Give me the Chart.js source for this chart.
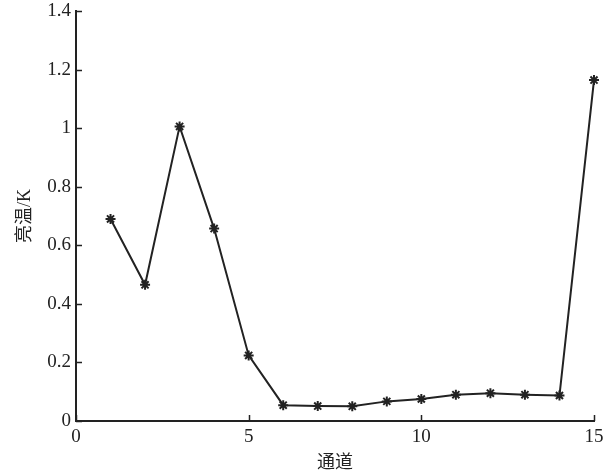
<!DOCTYPE html>
<html>
<head>
<meta charset="utf-8">
<script src="https://cdn.jsdelivr.net/npm/chart.js@4"></script>
<style>
  html, body { margin: 0; padding: 0; background: #fff; }
  #wrap { width: 613px; height: 474px; }
</style>
</head>
<body>
<div id="wrap"><canvas id="tbChart"></canvas></div>
<script>
// channel number vs brightness temperature (K)
const channels = [1, 2, 3, 4, 5, 6, 7, 8, 9, 10, 11, 12, 13, 14, 15];
const brightTemp = [0.69, 0.465, 1.006, 0.657, 0.224, 0.054, 0.051, 0.05, 0.067, 0.075, 0.09, 0.095, 0.09, 0.087, 1.164];
const xTicks = [0, 5, 10, 15];
const yTicks = [0, 0.2, 0.4, 0.6, 0.8, 1, 1.2, 1.4];

const serif = "'Liberation Serif', 'Times New Roman', 'Noto Sans CJK SC', serif";
const ink = '#222';

// short tick marks pointing into the plot area
const innerTicks = {
    id: 'innerTicks',
    afterDraw(chart) {
        const ctx = chart.ctx;
        const area = chart.chartArea;
        const xs = chart.scales.x, ys = chart.scales.y;
        ctx.save();
        ctx.strokeStyle = ink;
        ctx.lineWidth = 1.5;
        ctx.beginPath();
        yTicks.forEach(v => {
            const py = Math.round(ys.getPixelForValue(v)) + 0.5;
            ctx.moveTo(area.left, py);
            ctx.lineTo(area.left + 6, py);
        });
        xTicks.forEach(v => {
            const px = Math.round(xs.getPixelForValue(v)) + 0.5;
            ctx.moveTo(px, area.bottom);
            ctx.lineTo(px, area.bottom - 6);
        });
        ctx.stroke();
        ctx.restore();
    }
};

new Chart(document.getElementById('tbChart').getContext('2d'), {
    type: 'line',
    data: {
        datasets: [{
            data: channels.map((c, i) => ({ x: c, y: brightTemp[i] })),
            borderColor: ink,
            borderWidth: 2,
            pointStyle: 'star',
            pointRadius: 5,
            pointBorderWidth: 2,
            pointBorderColor: ink,
            pointBackgroundColor: ink,
            tension: 0,
            fill: false,
            clip: false
        }]
    },
    options: {
        responsive: true,
        maintainAspectRatio: false,
        animation: false,
        layout: { padding: { left: 4, top: 11, right: 19, bottom: 0 } },
        plugins: { legend: { display: false }, tooltip: { enabled: false } },
        scales: {
            x: {
                type: 'linear',
                min: 0,
                max: 15,
                afterBuildTicks: s => { s.ticks = xTicks.map(v => ({ value: v })); },
                grid: { display: false, drawTicks: false },
                border: { display: true, color: ink, width: 2 },
                ticks: { color: ink, padding: 5, font: { family: serif, size: 19 }, maxRotation: 0, callback: v => String(v) },
                title: { display: true, text: '通道', color: ink, padding: { top: 0, bottom: 0 }, font: { family: serif, size: 18 } },
                afterFit: s => { s.height = 53; s.paddingLeft = 0; s.paddingRight = 0; }
            },
            y: {
                min: 0,
                max: 1.4,
                afterBuildTicks: s => { s.ticks = yTicks.map(v => ({ value: v })); },
                grid: { display: false, drawTicks: false },
                border: { display: true, color: ink, width: 2 },
                ticks: { color: ink, padding: 5, font: { family: serif, size: 19 }, callback: v => String(v) },
                title: { display: true, text: '亮温/K', color: ink, padding: { top: 10, bottom: 0 }, font: { family: serif, size: 18 } },
                afterFit: s => { s.width = 72; s.paddingTop = 0; s.paddingBottom = 0; }
            }
        }
    },
    plugins: [innerTicks]
});
</script>
</body>
</html>
